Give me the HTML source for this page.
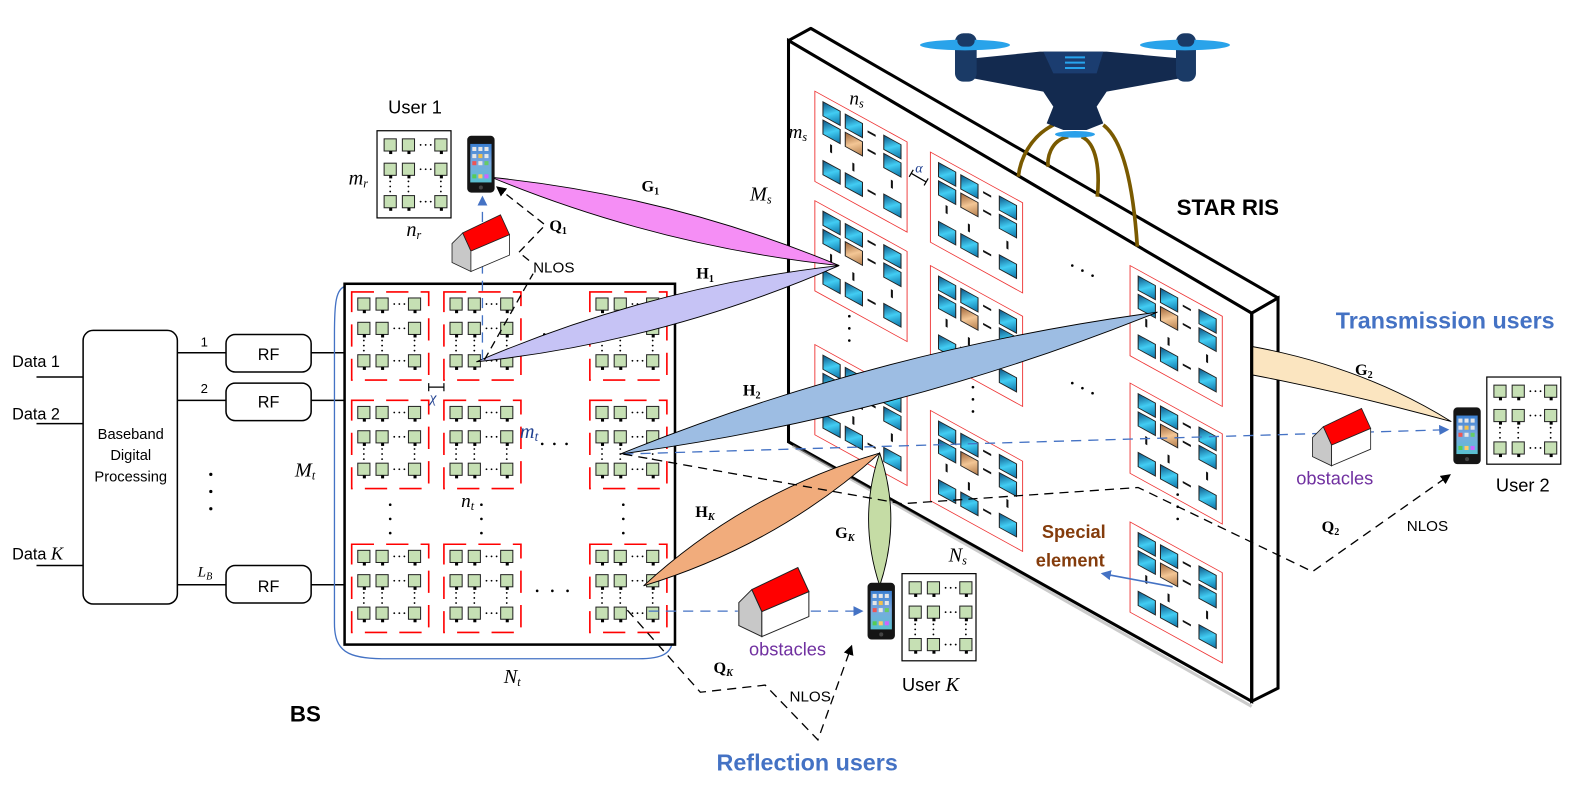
<!DOCTYPE html>
<html><head><meta charset="utf-8"><style>
html,body{margin:0;padding:0;background:#fff;}
svg{display:block;}
.s{font-family:"Liberation Sans",sans-serif;}
.m{font-family:"Liberation Serif",serif;font-style:italic;}
.b{font-family:"Liberation Serif",serif;font-weight:bold;}
</style></head><body>
<svg width="1587" height="795" viewBox="0 0 1587 795" xmlns="http://www.w3.org/2000/svg">
<defs>
<linearGradient id="bg" x1="0" y1="0" x2="1" y2="1"><stop offset="0" stop-color="#0b4f80"/><stop offset="0.5" stop-color="#42cdf3"/><stop offset="1" stop-color="#0a6fa3"/></linearGradient>
<linearGradient id="og" x1="0" y1="0" x2="1" y2="1"><stop offset="0" stop-color="#9a6035"/><stop offset="0.5" stop-color="#f3c695"/><stop offset="1" stop-color="#b07a4a"/></linearGradient>
<linearGradient id="sc" x1="0" y1="0" x2="0" y2="1"><stop offset="0" stop-color="#3b7fd0"/><stop offset="0.5" stop-color="#7aa9e0"/><stop offset="1" stop-color="#58c0d0"/></linearGradient>
<marker id="ab" markerWidth="10" markerHeight="10" refX="8" refY="5" orient="auto" markerUnits="userSpaceOnUse"><path d="M0,0 L10,5 L0,10 Z" fill="#4472c4"/></marker>
<marker id="ak" markerWidth="10" markerHeight="10" refX="8" refY="5" orient="auto" markerUnits="userSpaceOnUse"><path d="M0,0 L10,5 L0,10 Z" fill="#000"/></marker>
<g id="ant"><rect x="0" y="0" width="12" height="12" fill="#c6e0b4" stroke="#222" stroke-width="1"/><rect x="5" y="12" width="3" height="3" fill="#000"/></g>
<g id="grid">
<use href="#ant" x="0" y="0"/><use href="#ant" x="18" y="0"/><use href="#ant" x="50" y="0"/>
<use href="#ant" x="0" y="24"/><use href="#ant" x="18" y="24"/><use href="#ant" x="50" y="24"/>
<use href="#ant" x="0" y="56"/><use href="#ant" x="18" y="56"/><use href="#ant" x="50" y="56"/>
<g fill="#000"><circle cx="36" cy="6" r="0.9"/><circle cx="41" cy="6" r="0.9"/><circle cx="46" cy="6" r="0.9"/>
<circle cx="36" cy="30" r="0.9"/><circle cx="41" cy="30" r="0.9"/><circle cx="46" cy="30" r="0.9"/>
<circle cx="36" cy="62" r="0.9"/><circle cx="41" cy="62" r="0.9"/><circle cx="46" cy="62" r="0.9"/>
<circle cx="6" cy="42" r="0.9"/><circle cx="6" cy="47" r="0.9"/><circle cx="6" cy="52" r="0.9"/>
<circle cx="24" cy="42" r="0.9"/><circle cx="24" cy="47" r="0.9"/><circle cx="24" cy="52" r="0.9"/>
<circle cx="56" cy="42" r="0.9"/><circle cx="56" cy="47" r="0.9"/><circle cx="56" cy="52" r="0.9"/></g>
</g>
<g id="sub"><rect x="0" y="0" width="76" height="87" fill="none" stroke="#f00" stroke-width="1.6" stroke-dasharray="22 12"/><use href="#grid" x="6" y="6"/></g>
<g id="uarr"><rect x="0" y="0" width="73" height="86" fill="#fff" stroke="#000" stroke-width="1.2"/><use href="#grid" x="7" y="8"/></g>
<g id="phone"><rect x="0" y="0" width="27" height="56" rx="4" fill="#151515"/><rect x="3" y="8" width="21" height="38" fill="url(#sc)"/><g fill="#e6e6e6"><rect x="5" y="11" width="4" height="4"/><rect x="11" y="11" width="4" height="4"/><rect x="17" y="11" width="4" height="4"/><rect x="5" y="18" width="4" height="4"/><rect x="11" y="18" width="4" height="4" fill="#f2c14e"/><rect x="17" y="18" width="4" height="4"/><rect x="5" y="25" width="4" height="4" fill="#e55"/><rect x="11" y="25" width="4" height="4"/><rect x="17" y="25" width="4" height="4" fill="#6c6"/><rect x="5" y="38" width="4" height="4" fill="#5c5"/><rect x="11" y="38" width="4" height="4" fill="#fc6"/><rect x="17" y="38" width="4" height="4" fill="#c6f"/></g><circle cx="13.5" cy="51" r="2" fill="#444"/></g>
<g id="house"><polygon points="0,35 13,22 23,44 23,69 0,58" fill="#c8c8c8" stroke="#222" stroke-width="1"/><polygon points="23,44 70,24 70,49 23,69" fill="#fff" stroke="#222" stroke-width="1"/><polygon points="13,22 59,0 70,24 23,44" fill="#f00" stroke="#222" stroke-width="1"/></g>
<g id="rel"><rect x="0" y="0" width="17" height="14" fill="url(#bg)" stroke="#222" stroke-width="1"/></g>
<g id="tile">
<rect x="0" y="0" width="91" height="89" fill="none" stroke="#e33" stroke-width="0.9"/>
<use href="#rel" x="8" y="6"/><use href="#rel" x="30" y="6"/><use href="#rel" x="68" y="6"/>
<use href="#rel" x="8" y="24"/><rect x="30" y="24" width="17" height="14" fill="url(#og)" stroke="#222" stroke-width="1"/><use href="#rel" x="68" y="24"/>
<use href="#rel" x="8" y="64"/><use href="#rel" x="30" y="64"/><use href="#rel" x="68" y="64"/>
<g fill="#111"><rect x="52" y="10" width="8" height="2"/><rect x="52" y="28" width="8" height="2"/><rect x="52" y="68" width="8" height="2"/>
<rect x="15" y="44" width="2" height="8"/><rect x="37" y="50" width="2" height="8"/><rect x="75" y="46" width="2" height="8"/></g>
</g>
</defs>

<g transform="scale(1.0135)">
<!-- Left chain -->
<g stroke="#000" stroke-width="1.5" fill="none">
<line x1="36" y1="372" x2="82" y2="372"/><line x1="36" y1="418" x2="82" y2="418"/><line x1="36" y1="558" x2="82" y2="558"/>
<rect x="82" y="326" width="93" height="270" rx="10" fill="#fff"/>
<line x1="175" y1="348" x2="223" y2="348"/><line x1="175" y1="395" x2="223" y2="395"/><line x1="175" y1="577" x2="223" y2="577"/>
<rect x="223" y="330" width="84" height="37" rx="9" fill="#fff"/><rect x="223" y="378" width="84" height="37" rx="9" fill="#fff"/><rect x="223" y="558" width="84" height="37" rx="9" fill="#fff"/>
<line x1="307" y1="348" x2="340" y2="348"/><line x1="307" y1="395" x2="340" y2="395"/><line x1="307" y1="577" x2="340" y2="577"/>
</g>
<g class="s" font-size="16" fill="#000">
<text x="12" y="362">Data 1</text><text x="12" y="414">Data 2</text><text x="12" y="552">Data <tspan class="m" font-size="18">K</tspan></text>
<text x="129" y="433" text-anchor="middle" font-size="14.5">Baseband</text><text x="129" y="454" text-anchor="middle" font-size="14.5">Digital</text><text x="129" y="475" text-anchor="middle" font-size="14.5">Processing</text>
<text x="265" y="355" text-anchor="middle" font-size="16">RF</text><text x="265" y="402" text-anchor="middle" font-size="16">RF</text><text x="265" y="584" text-anchor="middle" font-size="16">RF</text>
<text x="198" y="342" font-size="13">1</text><text x="198" y="388" font-size="13">2</text>
</g>
<text class="m" x="195" y="569" font-size="15">L<tspan font-size="10" dy="3">B</tspan></text>
<g fill="#000"><circle cx="208" cy="468" r="1.6"/><circle cx="208" cy="485" r="1.6"/><circle cx="208" cy="502" r="1.6"/></g>

<!-- BS -->
<path d="M342,282 C331,284 330,300 330,330 L330,615 C330,642 342,650 380,650 L630,650 C655,650 662,644 664,632" fill="none" stroke="#4472c4" stroke-width="1.3"/>
<rect x="340" y="280" width="326" height="356" fill="#fff" stroke="#000" stroke-width="2.5"/>
<use href="#sub" x="347" y="288"/><use href="#sub" x="438" y="288"/><use href="#sub" x="582" y="288"/>
<use href="#sub" x="347" y="395"/><use href="#sub" x="438" y="395"/><use href="#sub" x="582" y="395"/>
<use href="#sub" x="347" y="537"/><use href="#sub" x="438" y="537"/><use href="#sub" x="582" y="537"/>
<g fill="#000"><circle cx="535" cy="438" r="1.3"/><circle cx="547" cy="438" r="1.3"/><circle cx="559" cy="438" r="1.3"/>
<circle cx="530" cy="583" r="1.3"/><circle cx="545" cy="583" r="1.3"/><circle cx="560" cy="583" r="1.3"/>
<circle cx="385" cy="498" r="1.3"/><circle cx="385" cy="512" r="1.3"/><circle cx="385" cy="526" r="1.3"/>
<circle cx="475" cy="498" r="1.3"/><circle cx="475" cy="512" r="1.3"/><circle cx="475" cy="526" r="1.3"/>
<circle cx="615" cy="498" r="1.3"/><circle cx="615" cy="512" r="1.3"/><circle cx="615" cy="526" r="1.3"/>
<circle cx="537" cy="330" r="1.3"/></g>
<path d="M423,378 L423,386 M423,382 L438,382 M438,378 L438,386" stroke="#000" stroke-width="1.2"/>
<text class="m" x="424" y="397" font-size="15" fill="#1f3f8f">χ</text>
<text class="m" x="513" y="432" font-size="20" fill="#1f3f8f">m<tspan font-size="13" dy="3">t</tspan></text>
<text class="m" x="455" y="500" font-size="19">n<tspan font-size="12" dy="3">t</tspan></text>
<text class="m" x="291" y="470" font-size="20">M<tspan font-size="12" dy="3">t</tspan></text>
<text class="m" x="497" y="674" font-size="20">N<tspan font-size="12" dy="3">t</tspan></text>
<text class="s" x="286" y="712" font-size="22" font-weight="bold">BS</text>

<!-- RIS panel -->
<polygon points="778,40 800,28 1261,294 1235,309" fill="#fff" stroke="#000" stroke-width="3" stroke-linejoin="round"/>
<polygon points="1235,309 1261,294 1261,679 1235,692" fill="#fff" stroke="#000" stroke-width="3"/>
<polygon points="778,40 1235,309 1235,692 778,436" fill="#fff" stroke="#000" stroke-width="3"/>
<path d="M782,440 L1235,697" stroke="#999" stroke-width="3" opacity="0.5"/>
<g transform="matrix(1,0.55,0,1,804,90)"><use href="#tile"/></g>
<g transform="matrix(1,0.55,0,1,804,198)"><use href="#tile"/></g>
<g transform="matrix(1,0.55,0,1,804,340)"><use href="#tile"/></g>
<g transform="matrix(1,0.55,0,1,918,150)"><use href="#tile"/></g>
<g transform="matrix(1,0.55,0,1,918,262)"><use href="#tile"/></g>
<g transform="matrix(1,0.55,0,1,918,405)"><use href="#tile"/></g>
<g transform="matrix(1,0.55,0,1,1115,262)"><use href="#tile"/></g>
<g transform="matrix(1,0.55,0,1,1115,378)"><use href="#tile"/></g>
<g transform="matrix(1,0.55,0,1,1115,515)"><use href="#tile"/></g>
<g fill="#000"><circle cx="1058" cy="262" r="1.3"/><circle cx="1068" cy="267" r="1.3"/><circle cx="1078" cy="272" r="1.3"/>
<circle cx="1058" cy="378" r="1.3"/><circle cx="1068" cy="383" r="1.3"/><circle cx="1078" cy="388" r="1.3"/>
<circle cx="838" cy="312" r="1.3"/><circle cx="838" cy="324" r="1.3"/><circle cx="838" cy="336" r="1.3"/>
<circle cx="960" cy="382" r="1.3"/><circle cx="960" cy="394" r="1.3"/><circle cx="960" cy="406" r="1.3"/>
<circle cx="1162" cy="488" r="1.3"/><circle cx="1162" cy="500" r="1.3"/><circle cx="1162" cy="512" r="1.3"/></g>
<path d="M898,171 L898,179 M898,175 L915,175 M915,171 L915,179" stroke="#000" stroke-width="1.2" transform="rotate(30 906 175)"/>
<text class="m" x="903" y="170" font-size="14" fill="#1f3f8f">α</text>
<text class="m" x="838" y="103" font-size="19">n<tspan font-size="12" dy="3">s</tspan></text>
<text class="m" x="778" y="136" font-size="19">m<tspan font-size="12" dy="3">s</tspan></text>
<text class="m" x="740" y="198" font-size="20">M<tspan font-size="12" dy="3">s</tspan></text>
<text class="m" x="936" y="554" font-size="20">N<tspan font-size="12" dy="3">s</tspan></text>
<text class="s" x="1161" y="212" font-size="22" font-weight="bold">STAR RIS</text>

<!-- beams -->
<g stroke="#000" stroke-width="0.9">
<path d="M485,175 Q650,243 828,262 Q662,193 485,175 Z" fill="#f58ef5"/>
<path d="M470,357 Q656,337 828,262 Q642,283 470,357 Z" fill="#c6c3f5"/>
<path d="M612,448 Q887,411 1142,308 Q867,345 612,448 Z" fill="#9dbde3"/>
<path d="M635,578 Q767,538 868,447 Q735,486 635,578 Z" fill="#f1ac7c"/>
<path d="M868,447 Q890,512 868,578 Q846,512 868,447 Z" fill="#c5dca5"/>
<path d="M1236,342 Q1345,362 1432,416 Q1330,388 1236,370 Z" fill="#fbe5c0"/>
</g>
<line x1="1235" y1="309" x2="1235" y2="692" stroke="#000" stroke-width="3"/>

<!-- dashed links -->
<g fill="none" stroke-width="1.3">
<path d="M615,448 L1428,424" stroke="#4472c4" stroke-dasharray="10 7" marker-end="url(#ab)"/>
<path d="M615,448 L890,497 L1123,481 L1295,564 L1430,469" stroke="#000" stroke-dasharray="9 6" marker-end="url(#ak)"/>
<path d="M476,355 L476,195" stroke="#4472c4" stroke-dasharray="10 7" marker-end="url(#ab)"/>
<path d="M478,355 L526,270 M522,257 L512,249 L538,222 L491,185" stroke="#000" stroke-dasharray="8 5" marker-end="url(#ak)"/>
<path d="M640,603 L728,603 M800,603 L850,603" stroke="#4472c4" stroke-dasharray="10 7" marker-end="url(#ab)"/>
<path d="M619,602 L691,683 L755,676 L807,730 L840,638" stroke="#000" stroke-dasharray="9 6" marker-end="url(#ak)"/>
<path d="M1157,579 L1088,566" stroke="#4472c4" stroke-width="1.6" marker-end="url(#ab)"/>
</g>

<!-- users -->
<text class="s" x="383" y="112" font-size="18">User 1</text>
<use href="#uarr" x="372" y="129"/>
<use href="#phone" x="461" y="134"/>
<text class="m" x="344" y="182" font-size="20">m<tspan font-size="12" dy="3">r</tspan></text>
<text class="m" x="401" y="233" font-size="20">n<tspan font-size="12" dy="3">r</tspan></text>
<g transform="translate(446,212) scale(0.81)"><use href="#house"/></g>
<text class="s" x="526" y="269" font-size="15">NLOS</text>
<text class="b" x="542" y="228" font-size="16">Q<tspan font-size="10" dy="3">1</tspan></text>
<text class="b" x="633" y="189" font-size="16">G<tspan font-size="10" dy="3">1</tspan></text>
<text class="b" x="687" y="275" font-size="16">H<tspan font-size="10" dy="3">1</tspan></text>
<text class="b" x="733" y="390" font-size="16">H<tspan font-size="10" dy="3">2</tspan></text>
<text class="b" x="686" y="510" font-size="16">H<tspan font-size="10" dy="3" font-style="italic">K</tspan></text>
<text class="b" x="824" y="531" font-size="16">G<tspan font-size="10" dy="3" font-style="italic">K</tspan></text>
<text class="b" x="704" y="664" font-size="16">Q<tspan font-size="10" dy="3" font-style="italic">K</tspan></text>
<text class="s" x="779" y="692" font-size="15">NLOS</text>

<g transform="translate(729,560) scale(0.987)"><use href="#house"/></g>
<text class="s" x="739" y="647" font-size="18" fill="#7030a0">obstacles</text>
<use href="#phone" x="856" y="575"/>
<use href="#uarr" x="890" y="566"/>
<text class="s" x="890" y="682" font-size="18">User <tspan class="m" font-size="20">K</tspan></text>
<text class="s" x="707" y="760" font-size="23" font-weight="bold" fill="#4472c4">Reflection users</text>

<text class="s" x="1028" y="531" font-size="18" font-weight="bold" fill="#843c0c">Special</text>
<text class="s" x="1022" y="559" font-size="18" font-weight="bold" fill="#843c0c">element</text>

<text class="s" x="1318" y="324" font-size="23" font-weight="bold" fill="#4472c4">Transmission users</text>
<text class="b" x="1337" y="370" font-size="16">G<tspan font-size="10" dy="3">2</tspan></text>
<g transform="translate(1295,403) scale(0.82)"><use href="#house"/></g>
<text class="s" x="1279" y="478" font-size="18" fill="#7030a0">obstacles</text>
<use href="#phone" x="1434" y="402"/>
<use href="#uarr" x="1467" y="372"/>
<text class="s" x="1476" y="485" font-size="18">User 2</text>
<text class="b" x="1304" y="525" font-size="16">Q<tspan font-size="10" dy="3">2</tspan></text>
<text class="s" x="1388" y="524" font-size="15">NLOS</text>
</g>

<!-- drone (zoom coords) -->
<g transform="translate(900,20) scale(0.3333)">
<path d="M460,315 C390,350 360,420 355,470 M505,350 C450,360 440,420 445,440 M545,350 C590,370 600,450 592,530 M610,315 C670,360 700,500 712,680" fill="none" stroke="#7a5a00" stroke-width="11"/>
<polygon points="220,115 420,95 620,95 840,115 840,175 620,215 590,260 610,310 560,330 490,330 440,310 460,260 430,215 220,175" fill="#132a4f"/>
<polygon points="430,95 610,95 590,160 460,160" fill="#1b3d70"/>
<g stroke="#27a4ee" stroke-width="6"><line x1="495" y1="112" x2="555" y2="112"/><line x1="495" y1="128" x2="555" y2="128"/><line x1="495" y1="144" x2="555" y2="144"/></g>
<ellipse cx="525" cy="343" rx="60" ry="10" fill="#2aa0ea"/>
<rect x="165" y="40" width="65" height="145" rx="25" fill="#1a3a66"/>
<rect x="828" y="40" width="60" height="145" rx="25" fill="#1a3a66"/>
<ellipse cx="195" cy="75" rx="135" ry="16" fill="#29a3ea"/>
<ellipse cx="855" cy="75" rx="135" ry="16" fill="#29a3ea"/>
<rect x="172" y="40" width="52" height="40" rx="18" fill="#1a3a66"/>
<rect x="833" y="40" width="50" height="40" rx="18" fill="#1a3a66"/>
</g>
</svg>
</body></html>
